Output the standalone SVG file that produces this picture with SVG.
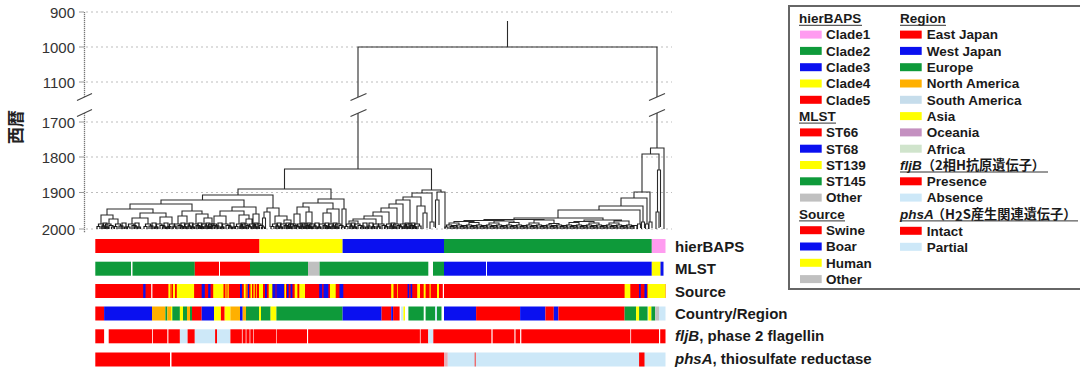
<svg xmlns="http://www.w3.org/2000/svg" xmlns:xlink="http://www.w3.org/1999/xlink" width="1080" height="368" viewBox="0 0 1080 368">
<style>
.tree{fill:none;stroke:#2a2a2a;stroke-width:1.1}
#tips{stroke:#1a1a1a;stroke-width:1.2}
.grid{fill:none;stroke:#bdbdbd;stroke-width:1;stroke-dasharray:2 3}
.axis{fill:none;stroke:#777;stroke-width:1.3;stroke-dasharray:1.2 0.8}
.tick{fill:none;stroke:#999;stroke-width:1}
.brk{fill:none;stroke:#444;stroke-width:1.2}
.ylab{font-family:"Liberation Sans",Arial,sans-serif;font-size:15px;fill:#333;text-anchor:end}
.lbl{font-family:"Liberation Sans",Arial,sans-serif;font-size:15px;font-weight:bold;fill:#1a1a1a}
.leg{font-family:"Liberation Sans",Arial,sans-serif;font-size:13.5px;font-weight:bold;fill:#1a1a1a}
.jp{font-family:"Noto Sans CJK JP",sans-serif;font-size:13.2px;font-weight:bold}
.ul{fill:none;stroke:#333;stroke-width:1}
.r{fill:#ff0000}.y{fill:#ffff00}.b{fill:#0a10f0}.g{fill:#0e9a3a}.p{fill:#ff9cf0}
.o{fill:#ffb000}.lb{fill:#cde8f8}.sa{fill:#c6ddeb}.gr{fill:#c0c0c0}.oc{fill:#c490c0}.af{fill:#d0e4cc}.w{fill:#ffffff}
</style>
<defs>
<path id="t1" d="M-4 5 V2.5 H-1 V5 M-2.5 2.5 V0 H2.5 V2 M1 5 V2 H4 V5"/>
<path id="t2" d="M-5 5 V3 H-2 V5 M-3.5 3 V0 H2 V1.5 M0 5 V1.5 H4 V3 M2.5 5 V3 H5.5 V5"/>
<path id="t3" d="M-3 6 V3 H-1 V6 M-2 3 V0 H2 V6 M0.5 6 V4 H3.5 V6"/>
<path id="tg" d="M-4 4 V2 H-1 V4 M-2.5 2 V0 H2.5 V1.5 M1 4 V1.5 H4 V4"/>
<path id="tg2" d="M-3 4 V1.5 H0 V4 M-1.5 1.5 V0.5 H3 V4"/>
</defs>
<rect width="1080" height="368" fill="#ffffff"/>

<g id="y-axis">
<g id="gridlines" class="grid">
<path d="M86 12 H672 M86 47 H672 M86 82 H672 M86 122 H672 M86 157 H672 M86 192.5 H672 M86 229 H672"/>
</g>
<path class="axis" d="M84.5 12 V97 M84.5 113 V233"/>
<path class="tick" d="M79 12 H84 M79 47 H84 M79 82 H84 M79 122 H84 M79 157 H84 M79 192.5 H84 M79 229 H84"/>
<path class="brk" d="M77 100.5 L92 93.5 M77 116.5 L92 109.5"/>
<text class="ylab" x="75" y="17.5">900</text>
<text class="ylab" x="75" y="52.5">1000</text>
<text class="ylab" x="75" y="87.5">1100</text>
<text class="ylab" x="75" y="127.5">1700</text>
<text class="ylab" x="75" y="162.5">1800</text>
<text class="ylab" x="75" y="198">1900</text>
<text class="ylab" x="75" y="234.5">2000</text>
<text transform="translate(21.5,127) rotate(-90)" text-anchor="middle" font-family="Noto Sans CJK JP, sans-serif" font-size="17" font-weight="bold" fill="#222">西暦</text>
</g>

<g id="tree" class="tree">
<path d="M507.5 21 V47
M358 169 V113 M358 97 V47 H657 V97 M657 113 V148
M284.5 189 V169 H431.5 V190
M238 195 V189 H331 V199
M202.5 200 V195 H273 V208
M161 204 V200 H244 V207
M130 209 V204 H192 V211
M107 215 V209 H153 V213
M101 224 V215 H113 V219
M109 224 V219 H118 V224
M140 218 V213 H166 V217
M132 224 V218 H148 V224
M160 224 V217 H172 V224
M182 216 V211 H202 V214
M178 224 V216 H187 V224
M196 224 V214 H208 V218
M204 224 V218 H212 V224
M232 211 V207 H256 V214
M220 216 V211 H244 V215
M214 224 V216 H226 V224
M239 224 V215 H249 V219
M246 224 V219 H252 V224
M253 226 V214 H259 V224
M267 212 V208 H279 V216
M264 218 V212 H270 V227
M262.5 229 V218 H265.5 V229
M275 224 V216 H287 V220
M284 224 V220 H291 V224
M318 203 V199 H344 V209
M303 207 V203 H333 V209
M297 214 V207 H309 V212
M294 224 V214 H300 V224
M306 224 V212 H312 V224
M327 213 V209 H339 V224
M323 224 V213 H331 V224
M342 228 V209 H346 V226
M422 193 V190 H441 V192
M437 200 V192 H445 V228
M435.5 228 V200 H439 V225
M412 197 V193 H432 V222
M430 229 V222 H434 V227
M403 200 V197 H421 V206
M417 224 V206 H425 V213
M423 229 V213 H427 V228
M396 204 V200 H410 V224
M389 208 V204 H403 V224
M381 212 V208 H397 V224
M373 216 V212 H389 V224
M364 219 V216 H382 V224
M353 221 V219 H376 V224
M349 224 V221 H358 V224
M650.5 154 V148 H664 V229
M642 192 V154 H659 V170
M657.5 212 V170 H660.5 V227
M656 229 V212 H659 V228
M634 198 V192 H650 V222
M649 229 V222 H652 V228
M621 206 V198 H647 V224
M645.5 229 V224 H648.5 V229
M599 210 V206 H643 V222
M641.5 229 V222 H644.5 V228
M558 218 V210 H640 V224
M637.5 229 V224 H640.5 V228
M514 219.5 V218 H603 V220
M584 221.5 V220 H621.5 V221
M484 220.5 V219.5 H544 V220
M464 221.5 V220.5 H504 V221
M454 223 V221.5 H474 V222.5
M494 223 V221 H514 V222.5
M534 223 V220 H554 V223.5
M574 222.5 V221.5 H594 V223
M614 223 V221 H629 V225
M449 225 V223 H459 V225
M469 225 V222.5 H479 V225
M489 225 V223 H499 V225
M509 225 V222.5 H519 V225
M529 225 V223 H539 V225
M549 225 V223.5 H559 V225
M569 225 V222.5 H579 V225
M589 225 V223 H599 V225
M609 225 V223 H619 V225"/>
<g id="tips">
<use href="#t1" x="101" y="224"/><use href="#t2" x="109" y="224"/><use href="#t1" x="118" y="224"/>
<use href="#t2" x="132" y="224"/><use href="#t1" x="148" y="224"/><use href="#t2" x="160" y="224"/>
<use href="#t1" x="172" y="224"/><use href="#t2" x="178" y="224"/><use href="#t1" x="187" y="224"/>
<use href="#t2" x="196" y="224"/><use href="#t1" x="204" y="224"/><use href="#t2" x="212" y="224"/>
<use href="#t1" x="214" y="224"/><use href="#t2" x="226" y="224"/><use href="#t1" x="239" y="224"/>
<use href="#t2" x="246" y="224"/><use href="#t1" x="252" y="224"/><use href="#t2" x="259" y="224"/>
<use href="#t1" x="275" y="224"/><use href="#t2" x="284" y="224"/><use href="#t1" x="291" y="224"/>
<use href="#t2" x="294" y="224"/><use href="#t1" x="300" y="224"/><use href="#t2" x="306" y="224"/>
<use href="#t1" x="312" y="224"/><use href="#t2" x="323" y="224"/><use href="#t1" x="331" y="224"/>
<use href="#t2" x="339" y="224"/><use href="#t1" x="349" y="224"/><use href="#t2" x="358" y="224"/>
<use href="#t1" x="376" y="224"/><use href="#t2" x="382" y="224"/><use href="#t1" x="389" y="224"/>
<use href="#t2" x="397" y="224"/><use href="#t1" x="403" y="224"/><use href="#t2" x="410" y="224"/>
<use href="#t1" x="417" y="224"/>
<use href="#t3" x="105" y="223"/><use href="#t3" x="124" y="223"/><use href="#t3" x="137" y="223"/>
<use href="#t3" x="154" y="223"/><use href="#t3" x="166" y="223"/><use href="#t3" x="183" y="223"/>
<use href="#t3" x="191" y="223"/><use href="#t3" x="200" y="223"/><use href="#t3" x="208" y="223"/>
<use href="#t3" x="220" y="223"/><use href="#t3" x="232" y="223"/><use href="#t3" x="243" y="223"/>
<use href="#t3" x="256" y="223"/><use href="#t3" x="279" y="223"/><use href="#t3" x="288" y="223"/>
<use href="#t3" x="303" y="223"/><use href="#t3" x="309" y="223"/><use href="#t3" x="317" y="223"/>
<use href="#t3" x="327" y="223"/><use href="#t3" x="335" y="223"/><use href="#t3" x="353" y="223"/>
<use href="#t3" x="365" y="223"/><use href="#t3" x="371" y="223"/><use href="#t3" x="393" y="223"/>
<use href="#t3" x="407" y="223"/><use href="#t3" x="413" y="223"/>
<use href="#tg" x="449" y="225"/><use href="#tg" x="459" y="225"/><use href="#tg" x="469" y="225"/>
<use href="#tg" x="479" y="225"/><use href="#tg" x="489" y="225"/><use href="#tg" x="499" y="225"/>
<use href="#tg" x="509" y="225"/><use href="#tg" x="519" y="225"/><use href="#tg" x="529" y="225"/>
<use href="#tg" x="539" y="225"/><use href="#tg" x="549" y="225"/><use href="#tg" x="559" y="225"/>
<use href="#tg" x="569" y="225"/><use href="#tg" x="579" y="225"/><use href="#tg" x="589" y="225"/>
<use href="#tg" x="599" y="225"/><use href="#tg" x="609" y="225"/><use href="#tg" x="619" y="225"/>
<use href="#tg" x="629" y="225"/>
<use href="#tg2" x="454" y="225"/><use href="#tg2" x="464" y="225"/><use href="#tg2" x="474" y="225"/>
<use href="#tg2" x="484" y="225"/><use href="#tg2" x="494" y="225"/><use href="#tg2" x="504" y="225"/>
<use href="#tg2" x="514" y="225"/><use href="#tg2" x="524" y="225"/><use href="#tg2" x="534" y="225"/>
<use href="#tg2" x="544" y="225"/><use href="#tg2" x="554" y="225"/><use href="#tg2" x="564" y="225"/>
<use href="#tg2" x="574" y="225"/><use href="#tg2" x="584" y="225"/><use href="#tg2" x="594" y="225"/>
<use href="#tg2" x="604" y="225"/><use href="#tg2" x="614" y="225"/><use href="#tg2" x="624" y="225"/>
<use href="#tg2" x="634" y="225"/>
</g>
<path class="brk" d="M350.5 100.5 L366.5 93.5 M350.5 116.5 L366.5 109.5 M649 100.5 L665 93.5 M649 116.5 L665 109.5"/>
</g>

<g id="bars">
<g id="bar-hierBAPS" transform="translate(0,239)">
<rect class="r" x="95.3" width="164.2" height="14"/>
<rect class="y" x="259.5" width="83.1" height="14"/>
<rect class="b" x="342.6" width="101.4" height="14"/>
<rect class="g" x="444" width="207.8" height="14"/>
<rect class="p" x="651.8" width="13.7" height="14"/>
</g>
<g id="bar-MLST" transform="translate(0,261.7)">
<rect class="g" x="95.3" width="35.7" height="14"/>
<rect class="g" x="132.5" width="62.3" height="14"/>
<rect class="r" x="194.8" width="24.2" height="14"/>
<rect class="r" x="220" width="30" height="14"/>
<rect class="g" x="250" width="58" height="14"/>
<rect class="gr" x="308" width="11.6" height="14"/>
<rect class="g" x="319.6" width="108.7" height="14"/>
<rect class="g" x="433" width="11" height="14"/>
<rect class="b" x="444" width="42" height="14"/>
<rect class="b" x="487" width="164.8" height="14"/>
<rect class="y" x="651.8" width="8.7" height="14"/>
<rect class="b" x="660.5" width="3" height="14"/>
</g>
<g id="bar-Source" transform="translate(0,284)">
<rect class="r" x="95.3" width="570.2" height="14"/>
<rect class="w" x="151.2" width="1.2" height="14"/>
<rect class="b" x="143.2" width="2.3" height="14"/>
<rect class="y" x="168.4" width="1.6" height="14"/>
<rect class="o" x="170.3" width="1.2" height="14"/>
<rect class="y" x="173" width="2" height="14"/>
<rect class="y" x="176.8" width="17.3" height="14"/>
<rect class="b" x="201.7" width="3.1" height="14"/>
<rect class="b" x="208.2" width="2.3" height="14"/>
<rect class="y" x="213.2" width="10.3" height="14"/>
<rect class="o" x="225.2" width="1.5" height="14"/>
<rect class="y" x="227.5" width="1.2" height="14"/>
<rect class="b" x="240" width="1.9" height="14"/>
<rect class="y" x="243.8" width="1.9" height="14"/>
<rect class="o" x="246.5" width="1" height="14"/>
<rect class="b" x="247.8" width="1.2" height="14"/>
<rect class="y" x="250.5" width="1.5" height="14"/>
<rect class="y" x="253.5" width="1.2" height="14"/>
<rect class="o" x="256" width="1" height="14"/>
<rect class="y" x="259" width="4" height="14"/>
<rect class="b" x="265" width="1.8" height="14"/>
<rect class="y" x="268.7" width="3.8" height="14"/>
<rect class="b" x="272.5" width="3.1" height="14"/>
<rect class="b" x="276.4" width="7.6" height="14"/>
<rect class="y" x="284.5" width="1.5" height="14"/>
<rect class="b" x="287" width="1.6" height="14"/>
<rect class="b" x="290.5" width="1.9" height="14"/>
<rect class="y" x="294.7" width="2.7" height="14"/>
<rect class="y" x="299.3" width="5.7" height="14"/>
<rect class="b" x="319.2" width="3" height="14"/>
<rect class="b" x="323.5" width="4.9" height="14"/>
<rect class="y" x="330" width="5.7" height="14"/>
<rect class="b" x="339.5" width="3.8" height="14"/>
<rect class="y" x="391.2" width="2.3" height="14"/>
<rect class="o" x="397" width="1" height="14"/>
<rect class="b" x="407.6" width="1.6" height="14"/>
<rect class="b" x="410.5" width="1.7" height="14"/>
<rect class="y" x="417.2" width="2.8" height="14"/>
<rect class="y" x="423.7" width="1.9" height="14"/>
<rect class="o" x="429.4" width="1.5" height="14"/>
<rect class="y" x="437" width="2" height="14"/>
<rect class="w" x="442.8" width="1.2" height="14"/>
<rect class="y" x="624.6" width="5.7" height="14"/>
<rect class="b" x="639.1" width="1.6" height="14"/>
<rect class="b" x="644.5" width="2.3" height="14"/>
<rect class="y" x="647.6" width="17.9" height="14"/>
</g>
<g id="bar-Country" transform="translate(0,306.5)">
<rect class="r" x="95.3" width="8.8" height="14"/>
<rect class="b" x="104.1" width="47.9" height="14"/>
<rect class="o" x="152" width="13.4" height="14"/>
<rect class="g" x="165.4" width="1.9" height="14"/>
<rect class="o" x="167.3" width="3.7" height="14"/>
<rect class="y" x="171" width="1.3" height="14"/>
<rect class="g" x="172.3" width="7.6" height="14"/>
<rect class="y" x="179.9" width="3.1" height="14"/>
<rect class="g" x="183" width="4" height="14"/>
<rect class="o" x="187" width="3" height="14"/>
<rect class="g" x="190" width="2" height="14"/>
<rect class="r" x="192" width="9.7" height="14"/>
<rect class="b" x="201.7" width="12.3" height="14"/>
<rect class="y" x="214" width="6.9" height="14"/>
<rect class="r" x="220.9" width="3.8" height="14"/>
<rect class="y" x="224.7" width="5.7" height="14"/>
<rect class="o" x="230.4" width="9.6" height="14"/>
<rect class="b" x="240" width="2.7" height="14"/>
<rect class="o" x="242.7" width="3.3" height="14"/>
<rect class="g" x="246" width="13.1" height="14"/>
<rect class="y" x="259.1" width="1.9" height="14"/>
<rect class="g" x="261" width="9.6" height="14"/>
<rect class="y" x="270.6" width="5.8" height="14"/>
<rect class="g" x="276.4" width="66.2" height="14"/>
<rect class="b" x="342.6" width="39" height="14"/>
<rect class="r" x="381.6" width="9.6" height="14"/>
<rect class="b" x="391.2" width="1.9" height="14"/>
<rect class="r" x="393.1" width="6.5" height="14"/>
<rect class="lb" x="401.1" width="2.3" height="14"/>
<rect class="y" x="403.4" width="1.6" height="14"/>
<rect class="g" x="408.4" width="15.3" height="14"/>
<rect class="g" x="425.6" width="9.6" height="14"/>
<rect class="lb" x="435.2" width="1.8" height="14"/>
<rect class="g" x="437" width="4.5" height="14"/>
<rect class="b" x="444" width="32.1" height="14"/>
<rect class="r" x="476.1" width="44" height="14"/>
<rect class="b" x="520.1" width="25.3" height="14"/>
<rect class="r" x="545.4" width="8.4" height="14"/>
<rect class="b" x="553.8" width="4.6" height="14"/>
<rect class="r" x="558.4" width="66.2" height="14"/>
<rect class="g" x="624.6" width="11.5" height="14"/>
<rect class="y" x="636.1" width="3" height="14"/>
<rect class="g" x="639.1" width="8.5" height="14"/>
<rect class="y" x="648.3" width="3.1" height="14"/>
<rect class="g" x="651.4" width="3.8" height="14"/>
<rect class="gr" x="655.2" width="3.8" height="14"/>
<rect class="lb" x="659" width="6.5" height="14"/>
</g>
<g id="bar-fljB" transform="translate(0,329.3)">
<rect class="r" x="95.3" width="8.8" height="14"/>
<rect class="r" x="108.7" width="43.3" height="14"/>
<rect class="r" x="152.8" width="14.5" height="14"/>
<rect class="r" x="168.4" width="11.5" height="14"/>
<rect class="lb" x="179.9" width="7.7" height="14"/>
<rect class="r" x="187.6" width="7.2" height="14"/>
<rect class="lb" x="194.8" width="20.3" height="14"/>
<rect class="r" x="215.1" width="1.9" height="14"/>
<rect class="lb" x="217" width="13.4" height="14"/>
<rect class="r" x="230.4" width="11.5" height="14"/>
<rect class="r" x="242.6" width="3.1" height="14"/>
<rect class="r" x="246.4" width="3.2" height="14"/>
<rect class="r" x="250.3" width="3.1" height="14"/>
<rect class="r" x="254" width="22.4" height="14"/>
<rect class="r" x="277" width="30" height="14"/>
<rect class="r" x="308.1" width="111.8" height="14"/>
<rect class="r" x="420.6" width="7.7" height="14"/>
<rect class="lb" x="428.3" width="5" height="14"/>
<rect class="r" x="433.3" width="58.1" height="14"/>
<rect class="r" x="492.6" width="21.8" height="14"/>
<rect class="r" x="515.5" width="4.6" height="14"/>
<rect class="r" x="521.3" width="109" height="14"/>
<rect class="r" x="631.1" width="27.9" height="14"/>
<rect class="r" x="660.2" width="5.3" height="14"/>
</g>
<g id="bar-phsA" transform="translate(0,352.5)">
<rect class="r" x="95.3" width="74.7" height="14"/>
<rect class="r" x="171.5" width="272.5" height="14"/>
<rect x="444" width="3.8" height="14" fill="#e8b0b8"/>
<rect class="lb" x="447.8" width="217.7" height="14"/>
<rect x="474.6" width="1.3" height="14" fill="#f06060"/>
<rect class="r" x="639.1" width="5.4" height="14"/>
</g>
</g>

<g id="bar-labels">
<text class="lbl" x="675" y="251.5">hierBAPS</text>
<text class="lbl" x="675" y="274">MLST</text>
<text class="lbl" x="675" y="296.5">Source</text>
<text class="lbl" x="675" y="318.5">Country/Region</text>
<text class="lbl" x="675" y="341"><tspan font-style="italic">fljB</tspan>, phase 2 flagellin</text>
<text class="lbl" x="675" y="363.5"><tspan font-style="italic">phsA</tspan>, thiosulfate reductase</text>
</g>

<g id="legend">
<rect x="789" y="6" width="300" height="283" fill="#ffffff" stroke="#666" stroke-width="2"/>
<g id="legend-hierBAPS">
<text class="leg" x="799" y="23.1">hierBAPS</text><path class="ul" d="M799 25.3 H862"/>
<rect class="p" x="800" y="30.6" width="21.7" height="8"/><text class="leg" x="826" y="39.4">Clade1</text>
<rect class="g" x="800" y="46.9" width="21.7" height="8"/><text class="leg" x="826" y="55.7">Clade2</text>
<rect class="b" x="800" y="63.2" width="21.7" height="8"/><text class="leg" x="826" y="72">Clade3</text>
<rect class="y" x="800" y="79.5" width="21.7" height="8"/><text class="leg" x="826" y="88.3">Clade4</text>
<rect class="r" x="800" y="95.8" width="21.7" height="8"/><text class="leg" x="826" y="104.6">Clade5</text>
</g>
<g id="legend-MLST">
<text class="leg" x="799" y="120.9">MLST</text><path class="ul" d="M799 123.1 H836"/>
<rect class="r" x="800" y="128.4" width="21.7" height="8"/><text class="leg" x="826" y="137.2">ST66</text>
<rect class="b" x="800" y="144.7" width="21.7" height="8"/><text class="leg" x="826" y="153.5">ST68</text>
<rect class="y" x="800" y="161" width="21.7" height="8"/><text class="leg" x="826" y="169.8">ST139</text>
<rect class="g" x="800" y="177.3" width="21.7" height="8"/><text class="leg" x="826" y="186.1">ST145</text>
<rect class="gr" x="800" y="193.6" width="21.7" height="8"/><text class="leg" x="826" y="202.4">Other</text>
</g>
<g id="legend-Source">
<text class="leg" x="799" y="218.7">Source</text><path class="ul" d="M799 220.9 H845"/>
<rect class="r" x="800" y="226.2" width="21.7" height="8"/><text class="leg" x="826" y="235">Swine</text>
<rect class="b" x="800" y="242.5" width="21.7" height="8"/><text class="leg" x="826" y="251.3">Boar</text>
<rect class="y" x="800" y="258.8" width="21.7" height="8"/><text class="leg" x="826" y="267.6">Human</text>
<rect class="gr" x="800" y="275.1" width="21.7" height="8"/><text class="leg" x="826" y="283.9">Other</text>
</g>
<g id="legend-Region">
<text class="leg" x="900" y="23.1">Region</text><path class="ul" d="M900 25.3 H946"/>
<rect class="r" x="900" y="30.6" width="21.7" height="8"/><text class="leg" x="926.7" y="39.4">East Japan</text>
<rect class="b" x="900" y="46.9" width="21.7" height="8"/><text class="leg" x="926.7" y="55.7">West Japan</text>
<rect class="g" x="900" y="63.2" width="21.7" height="8"/><text class="leg" x="926.7" y="72">Europe</text>
<rect class="o" x="900" y="79.5" width="21.7" height="8"/><text class="leg" x="926.7" y="88.3">North America</text>
<rect class="sa" x="900" y="95.8" width="21.7" height="8"/><text class="leg" x="926.7" y="104.6">South America</text>
<rect class="y" x="900" y="112.1" width="21.7" height="8"/><text class="leg" x="926.7" y="120.9">Asia</text>
<rect class="oc" x="900" y="128.4" width="21.7" height="8"/><text class="leg" x="926.7" y="137.2">Oceania</text>
<rect class="af" x="900" y="144.7" width="21.7" height="8"/><text class="leg" x="926.7" y="153.5">Africa</text>
</g>
<g id="legend-fljB">
<text class="leg" x="900" y="169.8"><tspan font-style="italic">fljB</tspan><tspan class="jp">（2相H抗原遺伝子）</tspan></text><path class="ul" d="M900 172 H1048"/>
<rect class="r" x="900" y="177.3" width="21.7" height="8"/><text class="leg" x="926.7" y="186.1">Presence</text>
<rect class="lb" x="900" y="193.6" width="21.7" height="8"/><text class="leg" x="926.7" y="202.4">Absence</text>
</g>
<g id="legend-phsA">
<text class="leg" x="900" y="218.7"><tspan font-style="italic">phsA</tspan><tspan class="jp" dx="-2">（H</tspan><tspan class="jp" font-size="8.5" dy="2">2</tspan><tspan class="jp" dy="-2">S産生関連遺伝子）</tspan></text><path class="ul" d="M900 220.9 H1078"/>
<rect class="r" x="900" y="226.8" width="21.7" height="8"/><text class="leg" x="926.7" y="235.6">Intact</text>
<rect class="lb" x="900" y="242.8" width="21.7" height="8"/><text class="leg" x="926.7" y="251.6">Partial</text>
</g>
</g>
</svg>
